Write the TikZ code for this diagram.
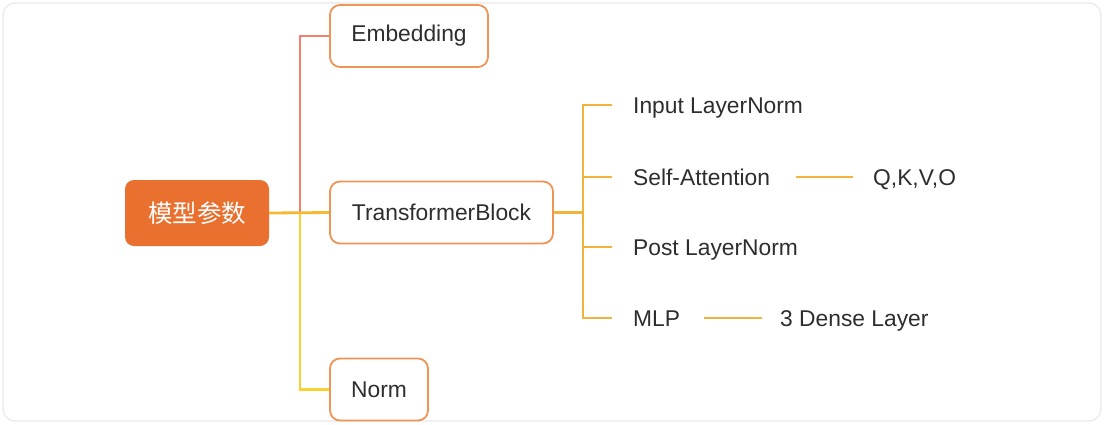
\documentclass[tikz,border=0pt]{standalone}
\usepackage{fontspec}
\setmainfont{Liberation Sans}
\newfontfamily\cjk{Noto Sans CJK SC}
\definecolor{txt}{HTML}{2E2E2E}
\definecolor{rootfill}{HTML}{EA7030}
\definecolor{boxline}{HTML}{EE9455}
\definecolor{redline}{HTML}{F27F72}
\definecolor{yelline}{HTML}{F9D12E}
\definecolor{midline}{HTML}{F5B830}
\definecolor{rline}{HTML}{F2B33A}
\definecolor{frameline}{HTML}{E8E8E8}
\begin{document}
\begin{tikzpicture}[x=1pt,y=-1pt,
  every node/.style={text=txt, font=\fontsize{22.8}{27}\selectfont},
  rootbox/.style={rectangle, rounded corners=9pt, fill=rootfill, text=white,
    minimum width=144pt, minimum height=66pt, inner sep=0pt, font=\cjk\fontsize{24.5}{28}\selectfont},
  cbox/.style={rectangle, rounded corners=10pt, draw=boxline, line width=1.8pt, fill=white,
    minimum height=62pt, inner sep=0pt},
  leaf/.style={anchor=base west, inner sep=0pt},
  conn/.style={line width=2.8pt},
]
\useasboundingbox (0,0) rectangle (1105,424);
\draw[frameline, line width=1.2pt, rounded corners=12pt, fill=white] (3,3) rectangle (1101,421);

\node[rootbox] (root) at (197,213) {模型参数};
\node[cbox, minimum width=158pt] (emb) at (409,36) {Embedding};
\node[cbox, minimum width=223pt] (tb) at (441.5,212.5) {TransformerBlock};
\node[cbox, minimum width=98pt] (norm) at (379,389.5) {Norm};

\coordinate (j1) at (300,212.5);
\coordinate (j2) at (583,212.5);

\draw[conn, redline] (emb.west) -| (j1);
\draw[conn, yelline] (norm.west) -| (j1);
\draw[conn, midline] (root.east) -- (tb.west);

\node[leaf] (inln) at (633,113) {Input LayerNorm};
\node[leaf] (sa) at (633,185) {Self-Attention};
\node[leaf] (qkv) at (873,185) {Q,K,V,O};
\node[leaf] (post) at (633,255) {Post LayerNorm};
\node[leaf] (mlp) at (633,326) {MLP};
\node[leaf] (dense) at (780,326) {3 Dense Layer};

\coordinate (t1) at (612,105);
\coordinate (t2) at (612,177);
\coordinate (t3) at (612,247);
\coordinate (t4) at (612,318);
\coordinate (q1) at (796,177);
\coordinate (q2) at (853,177);
\coordinate (m1) at (704,318);
\coordinate (m2) at (762,318);

\draw[conn, rline] (tb.east) -- (j2);
\draw[conn, rline] (j2) |- (t1);
\draw[conn, rline] (j2) |- (t2);
\draw[conn, rline] (j2) |- (t3);
\draw[conn, rline] (j2) |- (t4);
\draw[conn, rline] (q1) -- (q2);
\draw[conn, rline] (m1) -- (m2);
\end{tikzpicture}
\end{document}
